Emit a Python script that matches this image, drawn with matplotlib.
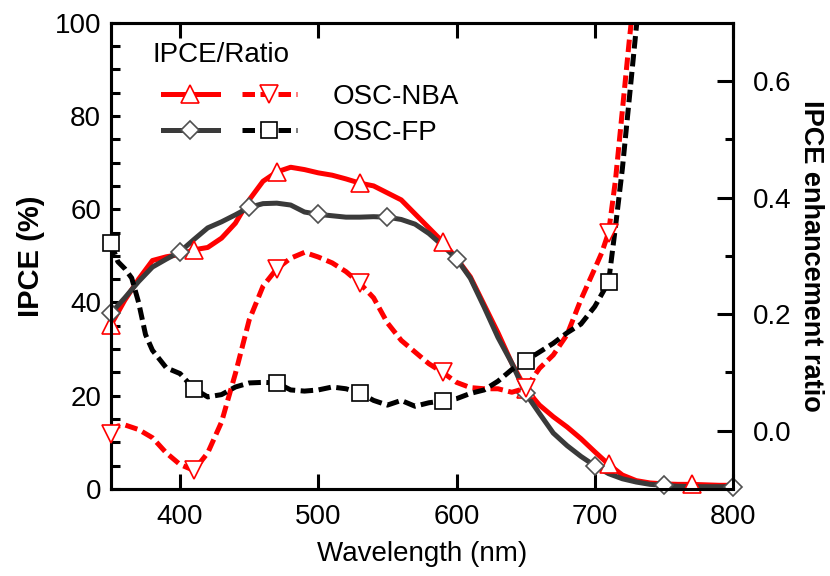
import matplotlib
matplotlib.use('Agg')
import matplotlib.pyplot as plt
from matplotlib.lines import Line2D
from matplotlib.legend_handler import HandlerTuple
from matplotlib.ticker import MultipleLocator, FixedLocator, FormatStrFormatter

plt.rcParams['font.family'] = ['Liberation Sans', 'DejaVu Sans']

# ---------------- data ----------------
wl = list(range(350, 801, 10))
ipce_nba = [35.2, 40.5, 45.0, 49.0, 49.8, 50.3, 51.3, 51.8, 53.8, 57.0,
            62.0, 66.0, 68.0, 69.0, 68.5, 67.8, 67.3, 66.5, 65.6, 65.0,
            63.5, 62.0, 59.0, 56.0, 53.0, 49.5, 45.5, 39.5, 33.5, 27.0,
            21.5, 18.0, 15.5, 13.3, 10.8, 8.0, 5.3, 3.0, 1.8, 1.3,
            1.1, 1.0, 1.0, 0.9, 0.8, 0.8]
ipce_fp = [37.7, 41.0, 44.5, 47.6, 49.3, 50.9, 53.5, 56.0, 57.3, 58.8,
           60.4, 61.2, 61.3, 60.9, 59.4, 58.9, 58.6, 58.3, 58.3, 58.4,
           58.3, 57.8, 56.8, 54.8, 52.2, 49.4, 45.2, 39.0, 32.5, 27.0,
           20.5, 16.2, 12.0, 9.3, 7.0, 5.0, 3.3, 2.2, 1.5, 1.0,
           0.8, 0.6, 0.5, 0.5, 0.5, 0.5]

wl_ratio_nba = [350, 355, 360, 370, 380, 390, 400, 410, 420, 430, 440, 450,
                460, 470, 480, 490, 500, 510, 520, 530, 540, 550, 560, 570,
                580, 590, 600, 610, 620, 630, 640, 650, 660, 670, 680, 690,
                700, 705, 710, 715, 720, 725, 730]
ratio_nba = [-0.005, 0.008, 0.010, 0.002, -0.012, -0.038, -0.058, -0.068,
             -0.038, 0.015, 0.098, 0.190, 0.248, 0.278, 0.296, 0.306, 0.298,
             0.288, 0.273, 0.253, 0.228, 0.185, 0.155, 0.135, 0.115, 0.100,
             0.083, 0.074, 0.072, 0.072, 0.066, 0.073, 0.107, 0.130, 0.165,
             0.225, 0.278, 0.305, 0.340, 0.430, 0.550, 0.670, 0.780]

wl_ratio_fp = [350, 355, 360, 365, 370, 375, 380, 390, 400, 410, 420, 430,
               440, 450, 460, 470, 480, 490, 500, 510, 520, 530, 540, 550,
               560, 570, 580, 590, 600, 610, 620, 630, 640, 650, 660, 670,
               680, 690, 700, 710, 715, 720, 725, 730, 735]
ratio_fp = [0.322, 0.290, 0.278, 0.262, 0.220, 0.165, 0.138, 0.108, 0.098,
            0.072, 0.058, 0.062, 0.075, 0.082, 0.083, 0.082, 0.070, 0.068,
            0.070, 0.075, 0.072, 0.065, 0.052, 0.044, 0.052, 0.042, 0.048,
            0.051, 0.055, 0.064, 0.070, 0.085, 0.105, 0.120, 0.135, 0.150,
            0.168, 0.183, 0.213, 0.255, 0.350, 0.450, 0.570, 0.690, 0.800]

marks_60 = list(range(350, 801, 60))
marks_50 = list(range(350, 801, 50))

labels = ['OSC-NBA', 'OSC-FP']
legend_title = 'IPCE/Ratio'

# ---------------- styles ----------------
RED = '#ff0000'
GRAY = '#3a3a3a'
BLACK = '#000000'
LW = 3.6
DASH = (0, (2.5, 1.1))

fig = plt.figure(figsize=(8.3, 5.76), dpi=100)
ax = fig.add_axes([0.1337, 0.151, 0.7494, 0.8096])
ax2 = ax.twinx()


def sel(x, y, marks):
    xs = [a for a in x if a in marks]
    ys = [b for a, b in zip(x, y) if a in marks]
    return xs, ys


# IPCE curves
ax.plot(wl, ipce_nba, color=RED, lw=LW, solid_capstyle='butt', zorder=2)
ax.plot(wl, ipce_fp, color=GRAY, lw=LW, solid_capstyle='butt', zorder=3)
xs, ys = sel(wl, ipce_nba, marks_60)
ax.plot(xs, ys, ls='none', marker='^', ms=13, mfc='white', mec=RED, mew=1.2,
        clip_on=False, zorder=4)
xs, ys = sel(wl, ipce_fp, marks_50)
ax.plot(xs, ys, ls='none', marker='D', ms=9.5, mfc='white', mec='#505050',
        mew=1.2, clip_on=False, zorder=5)

# ratio curves
ax2.plot(wl_ratio_nba, ratio_nba, color=RED, lw=LW, ls=DASH, zorder=2)
ax2.plot(wl_ratio_fp, ratio_fp, color=BLACK, lw=LW, ls=DASH, zorder=3)
xs, ys = sel(wl_ratio_nba, ratio_nba, marks_60)
ax2.plot(xs, ys, ls='none', marker='v', ms=13, mfc='white', mec=RED, mew=1.2,
         clip_on=False, zorder=4)
xs, ys = sel(wl_ratio_fp, ratio_fp, marks_60)
ax2.plot(xs, ys, ls='none', marker='s', ms=11, mfc='white', mec=BLACK,
         mew=1.2, clip_on=False, zorder=5)

# ---------------- axes ----------------
ax.set_xlim(350, 800)
ax.set_ylim(0, 100)
ax2.set_ylim(-0.1, 0.7)

ax.xaxis.set_major_locator(MultipleLocator(100))
ax.yaxis.set_major_locator(MultipleLocator(20))
ax.yaxis.set_minor_locator(MultipleLocator(5))
ax2.yaxis.set_major_locator(FixedLocator([0.0, 0.2, 0.4, 0.6]))
ax2.yaxis.set_minor_locator(FixedLocator([0.1, 0.3, 0.5]))
ax2.yaxis.set_major_formatter(FormatStrFormatter('%.1f'))

ax.tick_params(axis='x', which='major', direction='in', length=11, width=2.2,
               top=True, bottom=True, labelsize=20, pad=11)
ax.tick_params(axis='y', which='both', direction='in', length=6.5, width=2.2,
               left=True, right=False, labelsize=20, pad=7)
ax2.tick_params(axis='y', which='major', direction='in', length=11.5,
                width=2.2, labelsize=20, pad=14)
ax2.tick_params(axis='y', which='minor', direction='in', length=6, width=2.2)

for a in (ax, ax2):
    for s in a.spines.values():
        s.set_linewidth(2.2)

ax.set_xlabel('Wavelength (nm)', fontsize=20, labelpad=8)
ax.set_ylabel('IPCE (%)', fontsize=21, fontweight='bold', labelpad=7)
ax2.set_ylabel('IPCE enhancement ratio', fontsize=19.5, fontweight='bold',
               rotation=270, va='bottom', labelpad=5)

# ---------------- legend ----------------
ax2.text(0.066, 0.931, legend_title, transform=ax2.transAxes, fontsize=20,
         ha='left', va='center')
h_nba = (Line2D([], [], color=RED, lw=LW, marker='^', ms=13, mfc='white',
                mec=RED, mew=1.2),
         Line2D([], [], color=RED, lw=LW, ls=DASH, marker='v', ms=13,
                mfc='white', mec=RED, mew=1.2))
h_fp = (Line2D([], [], color=GRAY, lw=LW, marker='D', ms=9.5, mfc='white',
               mec='#505050', mew=1.2),
        Line2D([], [], color=BLACK, lw=LW, ls=DASH, marker='s', ms=11,
               mfc='white', mec=BLACK, mew=1.2))
leg = ax2.legend([h_nba, h_fp], labels,
                 handler_map={tuple: HandlerTuple(ndivide=None, pad=0.86)},
                 loc='center left', bbox_to_anchor=(0.0836, 0.802),
                 frameon=False, fontsize=20,
                 handlelength=4.82, handletextpad=1.3, labelspacing=0.37,
                 borderpad=0, borderaxespad=0, numpoints=1)

fig.savefig('out.png', dpi=100)
